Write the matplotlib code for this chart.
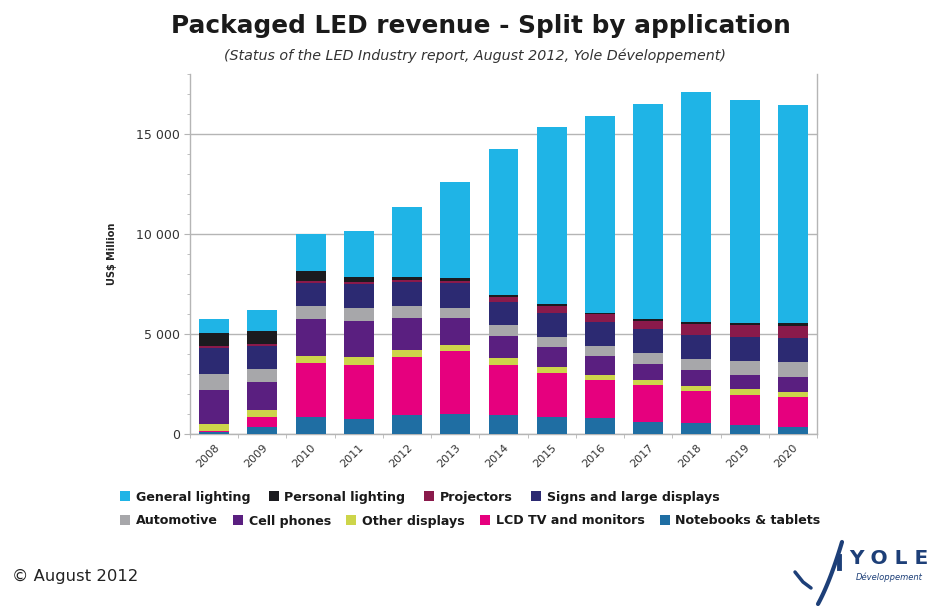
import matplotlib
matplotlib.use("Agg")
import matplotlib.pyplot as plt
import numpy as np
from matplotlib.ticker import MultipleLocator, FixedLocator, FuncFormatter
from matplotlib.lines import Line2D

# Packaged LED revenue by application, US$ million (stack order: bottom -> top)
years = ["2008", "2009", "2010", "2011", "2012", "2013", "2014",
         "2015", "2016", "2017", "2018", "2019", "2020"]
notebooks = [120, 370, 870, 770, 970, 1000, 950, 870, 780, 620, 530, 450, 370]
lcd_tv = [40, 470, 2670, 2700, 2870, 3130, 2500, 2170, 1920, 1830, 1630, 1500, 1500]
other_displays = [330, 370, 380, 370, 380, 300, 330, 330, 250, 250, 250, 280, 250]
cell_phones = [1700, 1400, 1820, 1820, 1580, 1370, 1120, 1000, 950, 800, 780, 720, 720]
automotive = [800, 620, 680, 630, 580, 500, 550, 500, 500, 570, 580, 720, 780]
signs = [1330, 1150, 1150, 1220, 1220, 1250, 1170, 1170, 1220, 1180, 1200, 1200, 1170]
projectors = [70, 100, 100, 90, 100, 120, 220, 370, 370, 420, 550, 580, 620]
personal_lighting = [670, 650, 500, 250, 130, 130, 120, 80, 80, 80, 80, 120, 130]
general_lighting = [710, 1070, 1850, 2320, 3520, 4820, 7270, 8850, 9830,
                    10750, 11480, 11130, 10890]

series = [
    ("Notebooks & tablets", notebooks, "#1f6ea3"),
    ("LCD TV and monitors", lcd_tv, "#e6007e"),
    ("Other displays", other_displays, "#cdd54a"),
    ("Cell phones", cell_phones, "#5a1f80"),
    ("Automotive", automotive, "#a7a7aa"),
    ("Signs and large displays", signs, "#2c2a72"),
    ("Projectors", projectors, "#8a1a4b"),
    ("Personal lighting", personal_lighting, "#1b1b1f"),
    ("General lighting", general_lighting, "#1fb4e6"),
]

fig = plt.figure(figsize=(9.3, 6.06), dpi=100)
ax = fig.add_axes([190 / 930, 1 - 434 / 606, (817 - 190) / 930, (434 - 74) / 606])

x = np.arange(len(years))
bottom = np.zeros(len(years))
handles = {}
for name, vals, color in series:
    vals = np.asarray(vals, dtype=float)
    bars = ax.bar(x, vals, width=0.62, bottom=bottom, color=color,
                  edgecolor="none", label=name, zorder=3)
    handles[name] = bars
    bottom += vals

ax.set_xlim(-0.5, len(years) - 0.5)
ax.set_ylim(0, 18000)

grid_c = "#b5b5b5"
ax.yaxis.set_major_locator(FixedLocator([0, 5000, 10000, 15000]))
ax.yaxis.set_minor_locator(MultipleLocator(1000))
ax.yaxis.set_major_formatter(FuncFormatter(lambda v, p: f"{int(v):,}".replace(",", " ")))
ax.grid(axis="y", which="major", color=grid_c, linewidth=1.0, zorder=0)

ax.set_xticks(x)
ax.set_xticklabels(years, rotation=45, ha="right", rotation_mode="anchor",
                   fontsize=8, color="#333333")
ax.xaxis.set_minor_locator(FixedLocator(np.arange(len(years) + 1) - 0.5))
ax.tick_params(axis="x", which="major", length=0, pad=6)
ax.tick_params(axis="x", which="minor", length=3, color=grid_c)
ax.tick_params(axis="y", which="major", length=4, color=grid_c, labelsize=9,
               labelcolor="#333333", pad=3)
ax.tick_params(axis="y", which="minor", length=2, color=grid_c)

for side in ("left", "bottom", "right"):
    ax.spines[side].set_color(grid_c)
    ax.spines[side].set_linewidth(1.0)
ax.spines["top"].set_visible(False)

ax.set_ylabel("US$ Million", fontsize=7, fontweight="bold", color="#222222",
              labelpad=14)

fig.text(481 / 930, 1 - 26 / 606, "Packaged LED revenue - Split by application",
         ha="center", va="center", fontsize=17.8, fontweight="bold", color="#1a1a1a")
fig.text(475 / 930, 1 - 56 / 606,
         "(Status of the LED Industry report, August 2012, Yole Développement)",
         ha="center", va="center", fontsize=10.3, style="italic", color="#333333")

row1 = ["General lighting", "Personal lighting", "Projectors", "Signs and large displays"]
row2 = ["Automotive", "Cell phones", "Other displays", "LCD TV and monitors",
        "Notebooks & tablets"]
legend_font = {"family": "DejaVu Sans", "weight": "bold", "size": 9.1}
for names, ypos, spacing in ((row1, 1 - 497 / 606, 1.45), (row2, 1 - 521 / 606, 1.2)):
    fig.legend([handles[n] for n in names], names, loc="center left",
               bbox_to_anchor=(120 / 930, ypos), ncol=len(names), frameon=False,
               prop=legend_font, handlelength=0.8, handleheight=0.8,
               handletextpad=0.45, columnspacing=spacing, borderaxespad=0,
               borderpad=0, labelcolor="#1a1a1a")

fig.text(12 / 930, 1 - 576 / 606, "© August 2012", ha="left", va="center",
         fontsize=11.8, color="#222222")

# Yole Développement logo: swoosh mark plus wordmark
navy = "#1d3f78"
fig.add_artist(Line2D([795 / 930, 803 / 930, 811 / 930],
                      [1 - 572 / 606, 1 - 582 / 606, 1 - 588 / 606],
                      transform=fig.transFigure, color=navy, linewidth=2.5,
                      solid_capstyle="round"))
t = np.linspace(0, 1, 30)
sx = 818 + 24 * t
sy = 604 - 62 * t + 18 * t * (1 - t)
fig.add_artist(Line2D(sx / 930, 1 - sy / 606, transform=fig.transFigure,
                      color=navy, linewidth=3.0, solid_capstyle="round"))
fig.add_artist(Line2D([839 / 930, 839 / 930], [1 - 556 / 606, 1 - 568 / 606],
                      transform=fig.transFigure, color=navy, linewidth=3.5))
fig.text(889 / 930, 1 - 558 / 606, "Y O L E", ha="center", va="center",
         fontsize=14.5, fontweight="bold", color=navy)
fig.text(889 / 930, 1 - 577 / 606, "Développement", ha="center", va="center",
         fontsize=6, style="italic", color=navy)

fig.savefig("out.png", dpi=100)
